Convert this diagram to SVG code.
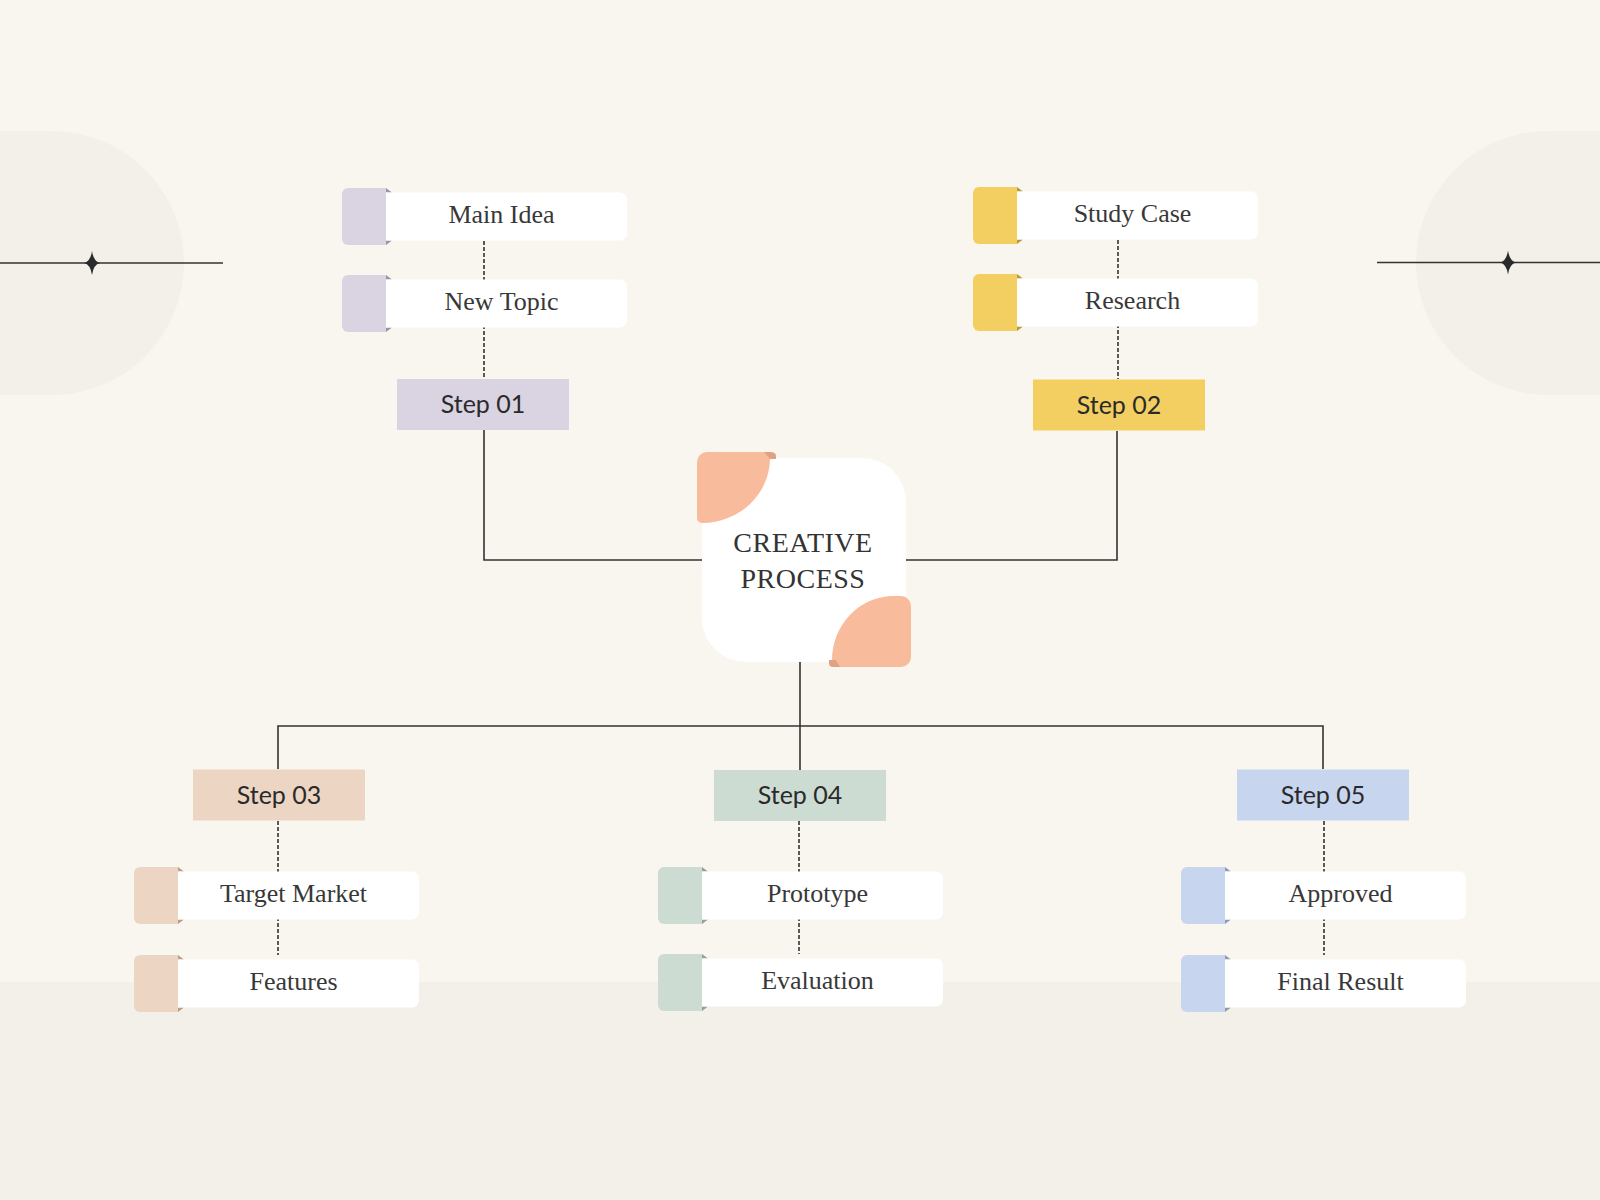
<svg xmlns="http://www.w3.org/2000/svg" width="1600" height="1200" viewBox="0 0 1600 1200">
<defs>
<style>
.bg{fill:#f9f6f0}
.deco{fill:#f3f0ea}
.conn{fill:none;stroke:#333;stroke-width:1.6}
.dash{fill:none;stroke:#333;stroke-width:1.6;stroke-dasharray:4 2}
.white{fill:#ffffff}
.lbl{font-family:"Liberation Serif","DejaVu Serif",serif;font-size:26px;fill:#383838;text-anchor:middle}
.step{font-family:Lato,"Liberation Sans",sans-serif;font-size:25px;fill:#2a2a2a;text-anchor:middle}
.title{font-family:"Liberation Serif","DejaVu Serif",serif;font-size:28px;fill:#333;text-anchor:middle;letter-spacing:0.5px}
.lav{fill:#d9d3e2}.lavd{fill:#9b95a3}
.yel{fill:#f3cf62}.yeld{fill:#b59a3e}
.bei{fill:#ecd6c3}.beid{fill:#b8a08c}
.sag{fill:#cddcd3}.sagd{fill:#8fa39a}
.blu{fill:#c7d5ee}.blud{fill:#8d9bb5}
.star{fill:#2a2a2a}
</style>
</defs>
<rect class="bg" x="0" y="0" width="1600" height="1200"/>
<rect class="deco" x="0" y="982" width="1600" height="218"/>
<g id="decor-left">
<path class="deco" d="M0,131 H52 A132 132 0 0 1 52,395 H0 Z"/>
<line x1="0" y1="263" x2="223" y2="263" stroke="#333" stroke-width="1.6"/>
<path class="star" d="M92,251 Q93.5,261.5 100,263 Q93.5,264.5 92,275 Q90.5,264.5 84,263 Q90.5,261.5 92,251 Z"/>
</g>
<g id="decor-right">
<path class="deco" d="M1600,131 H1548 A132 132 0 0 0 1548,395 H1600 Z"/>
<line x1="1377" y1="262.5" x2="1600" y2="262.5" stroke="#333" stroke-width="1.6"/>
<path class="star" d="M1508,250.5 Q1509.5,261 1516,262.5 Q1509.5,264 1508,274.5 Q1506.5,264 1500,262.5 Q1506.5,261 1508,250.5 Z"/>
</g>
<g id="connectors">
<line class="dash" x1="484" y1="241" x2="484" y2="379"/>
<line class="dash" x1="1118" y1="240" x2="1118" y2="379"/>
<line class="dash" x1="278" y1="821" x2="278" y2="955"/>
<line class="dash" x1="799" y1="821" x2="799" y2="954"/>
<line class="dash" x1="1324" y1="821" x2="1324" y2="955"/>
<path class="conn" d="M484,430 V560 H702"/>
<path class="conn" d="M1117,431 V560 H906"/>
<path class="conn" d="M800,662 V770"/>
<path class="conn" d="M278,769 V726 H1323 V769"/>
</g>
<g id="center">
<rect class="white" x="702" y="458" width="204" height="204" rx="44"/>
<path fill="#f8bb9b" d="M697,462 A10 10 0 0 1 707,452 H770 V458 A68 65 0 0 1 702,523 A5 5 0 0 1 697,518 Z"/>
<path fill="#e0a283" d="M764,452 H770 Q776,452 776,456 V459 H770 Z"/>
<path fill="#f8bb9b" d="M832,667 V660 A62 64 0 0 1 894,596 H901 A10 10 0 0 1 911,606 V657 A10 10 0 0 1 901,667 Z"/>
<path fill="#e0a283" d="M840,667 H833 Q829,667 829,663 V660 H836 Z"/>
<text class="title" x="803" y="552">CREATIVE</text>
<text class="title" x="803" y="588">PROCESS</text>
</g>
<g id="step01"><rect class="lav" x="397" y="379" width="172" height="51"/><text class="step" x="483" y="413">Step 01</text></g>
<g id="step02"><rect class="yel" x="1033" y="379.5" width="172" height="51"/><text class="step" x="1119" y="413.5">Step 02</text></g>
<g id="step03"><rect class="bei" x="193" y="769.5" width="172" height="51"/><text class="step" x="279" y="803.5">Step 03</text></g>
<g id="step04"><rect class="sag" x="714" y="770" width="172" height="51"/><text class="step" x="800" y="804">Step 04</text></g>
<g id="step05"><rect class="blu" x="1237" y="769.5" width="172" height="51"/><text class="step" x="1323" y="803.5">Step 05</text></g>

<g id="main-idea" transform="translate(342,188)">
<path class="lav" d="M6,0 H44 V57 H6 A6 6 0 0 1 0,51 V6 A6 6 0 0 1 6,0 Z"/>
<path class="lavd" d="M44,0 L50,4.5 H44 Z M44,57 L50,52.5 H44 Z"/>
<path class="white" d="M44,4.5 H278 A7 7 0 0 1 285,11.5 V45.5 A7 7 0 0 1 278,52.5 H44 Z"/>
<text class="lbl" x="159.5" y="35">Main Idea</text>
</g>
<g id="new-topic" transform="translate(342,275)">
<path class="lav" d="M6,0 H44 V57 H6 A6 6 0 0 1 0,51 V6 A6 6 0 0 1 6,0 Z"/>
<path class="lavd" d="M44,0 L50,4.5 H44 Z M44,57 L50,52.5 H44 Z"/>
<path class="white" d="M44,4.5 H278 A7 7 0 0 1 285,11.5 V45.5 A7 7 0 0 1 278,52.5 H44 Z"/>
<text class="lbl" x="159.5" y="35">New Topic</text>
</g>
<g id="study-case" transform="translate(973,187)">
<path class="yel" d="M6,0 H44 V57 H6 A6 6 0 0 1 0,51 V6 A6 6 0 0 1 6,0 Z"/>
<path class="yeld" d="M44,0 L50,4.5 H44 Z M44,57 L50,52.5 H44 Z"/>
<path class="white" d="M44,4.5 H278 A7 7 0 0 1 285,11.5 V45.5 A7 7 0 0 1 278,52.5 H44 Z"/>
<text class="lbl" x="159.5" y="35">Study Case</text>
</g>
<g id="research" transform="translate(973,274)">
<path class="yel" d="M6,0 H44 V57 H6 A6 6 0 0 1 0,51 V6 A6 6 0 0 1 6,0 Z"/>
<path class="yeld" d="M44,0 L50,4.5 H44 Z M44,57 L50,52.5 H44 Z"/>
<path class="white" d="M44,4.5 H278 A7 7 0 0 1 285,11.5 V45.5 A7 7 0 0 1 278,52.5 H44 Z"/>
<text class="lbl" x="159.5" y="35">Research</text>
</g>
<g id="target-market" transform="translate(134,867)">
<path class="bei" d="M6,0 H44 V57 H6 A6 6 0 0 1 0,51 V6 A6 6 0 0 1 6,0 Z"/>
<path class="beid" d="M44,0 L50,4.5 H44 Z M44,57 L50,52.5 H44 Z"/>
<path class="white" d="M44,4.5 H278 A7 7 0 0 1 285,11.5 V45.5 A7 7 0 0 1 278,52.5 H44 Z"/>
<text class="lbl" x="159.5" y="35">Target Market</text>
</g>
<g id="features" transform="translate(134,955)">
<path class="bei" d="M6,0 H44 V57 H6 A6 6 0 0 1 0,51 V6 A6 6 0 0 1 6,0 Z"/>
<path class="beid" d="M44,0 L50,4.5 H44 Z M44,57 L50,52.5 H44 Z"/>
<path class="white" d="M44,4.5 H278 A7 7 0 0 1 285,11.5 V45.5 A7 7 0 0 1 278,52.5 H44 Z"/>
<text class="lbl" x="159.5" y="35">Features</text>
</g>
<g id="prototype" transform="translate(658,867)">
<path class="sag" d="M6,0 H44 V57 H6 A6 6 0 0 1 0,51 V6 A6 6 0 0 1 6,0 Z"/>
<path class="sagd" d="M44,0 L50,4.5 H44 Z M44,57 L50,52.5 H44 Z"/>
<path class="white" d="M44,4.5 H278 A7 7 0 0 1 285,11.5 V45.5 A7 7 0 0 1 278,52.5 H44 Z"/>
<text class="lbl" x="159.5" y="35">Prototype</text>
</g>
<g id="evaluation" transform="translate(658,954)">
<path class="sag" d="M6,0 H44 V57 H6 A6 6 0 0 1 0,51 V6 A6 6 0 0 1 6,0 Z"/>
<path class="sagd" d="M44,0 L50,4.5 H44 Z M44,57 L50,52.5 H44 Z"/>
<path class="white" d="M44,4.5 H278 A7 7 0 0 1 285,11.5 V45.5 A7 7 0 0 1 278,52.5 H44 Z"/>
<text class="lbl" x="159.5" y="35">Evaluation</text>
</g>
<g id="approved" transform="translate(1181,867)">
<path class="blu" d="M6,0 H44 V57 H6 A6 6 0 0 1 0,51 V6 A6 6 0 0 1 6,0 Z"/>
<path class="blud" d="M44,0 L50,4.5 H44 Z M44,57 L50,52.5 H44 Z"/>
<path class="white" d="M44,4.5 H278 A7 7 0 0 1 285,11.5 V45.5 A7 7 0 0 1 278,52.5 H44 Z"/>
<text class="lbl" x="159.5" y="35">Approved</text>
</g>
<g id="final-result" transform="translate(1181,955)">
<path class="blu" d="M6,0 H44 V57 H6 A6 6 0 0 1 0,51 V6 A6 6 0 0 1 6,0 Z"/>
<path class="blud" d="M44,0 L50,4.5 H44 Z M44,57 L50,52.5 H44 Z"/>
<path class="white" d="M44,4.5 H278 A7 7 0 0 1 285,11.5 V45.5 A7 7 0 0 1 278,52.5 H44 Z"/>
<text class="lbl" x="159.5" y="35">Final Result</text>
</g>
</svg>
